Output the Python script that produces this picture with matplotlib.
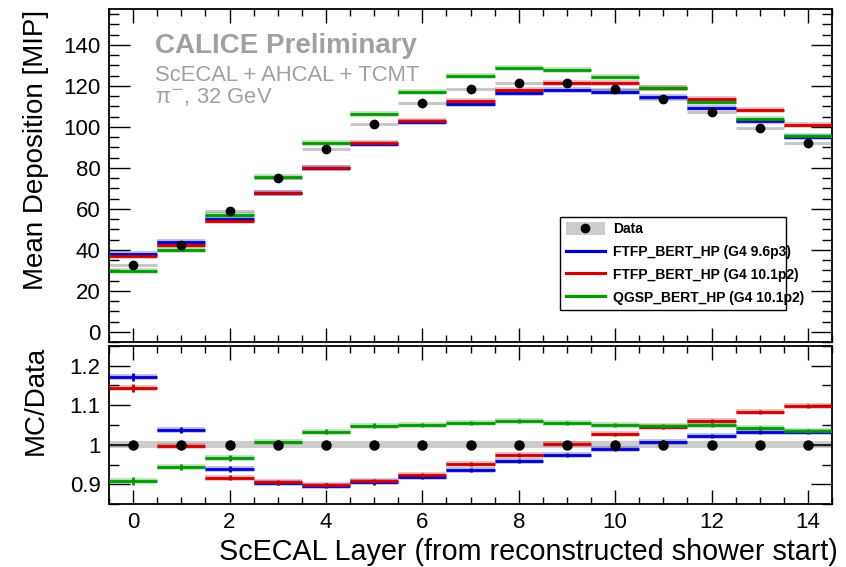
import numpy as np
import matplotlib
matplotlib.use("Agg")
import matplotlib.pyplot as plt
from matplotlib.patches import Rectangle
from matplotlib.lines import Line2D
from matplotlib.ticker import MultipleLocator

plt.rcParams["font.family"] = ["Liberation Sans", "DejaVu Sans"]

# ScECAL layer index (from reconstructed shower start)
layers = list(range(15))

# mean deposition [MIP]
data_mip = [32.5, 42.3, 58.9, 75.0, 89.2, 101.4, 111.5, 118.4, 121.3, 121.3, 118.4, 113.6, 107.1, 99.6, 92.1]
ftfp_96_mip = [38.1, 43.9, 55.2, 67.7, 79.9, 91.8, 102.5, 110.9, 116.3, 118.0, 117.2, 114.5, 109.3, 102.8, 95.1]
ftfp_101_mip = [37.2, 42.2, 54.0, 67.9, 80.1, 92.1, 102.9, 112.6, 118.0, 121.5, 121.5, 118.8, 113.6, 108.0, 101.0]
qgsp_101_mip = [29.5, 39.9, 57.0, 75.5, 92.1, 106.3, 117.2, 125.0, 128.6, 127.9, 124.4, 119.1, 112.3, 103.8, 95.4]

# MC / Data
ftfp_96_ratio = [1.171, 1.037, 0.938, 0.903, 0.896, 0.905, 0.919, 0.937, 0.959, 0.973, 0.990, 1.008, 1.021, 1.032, 1.033]
ftfp_101_ratio = [1.144, 0.997, 0.917, 0.905, 0.898, 0.908, 0.923, 0.951, 0.973, 1.002, 1.026, 1.046, 1.061, 1.084, 1.097]
qgsp_101_ratio = [0.908, 0.944, 0.967, 1.007, 1.033, 1.048, 1.051, 1.056, 1.060, 1.054, 1.051, 1.048, 1.049, 1.042, 1.036]
ratio_err = [0.010, 0.008, 0.007, 0.006, 0.006, 0.006, 0.005, 0.005, 0.005, 0.005, 0.005, 0.005, 0.005, 0.005, 0.005]

models = [
    ("FTFP_BERT_HP (G4 9.6p3)", "#0000cc", ftfp_96_mip, ftfp_96_ratio),
    ("FTFP_BERT_HP (G4 10.1p2)", "#cc0000", ftfp_101_mip, ftfp_101_ratio),
    ("QGSP_BERT_HP (G4 10.1p2)", "#009900", qgsp_101_mip, qgsp_101_ratio),
]

W, H = 846, 567
fig = plt.figure(figsize=(W / 100, H / 100), dpi=100)


def px_axes(x0, y0, x1, y1):
    return fig.add_axes([x0 / W, 1 - y1 / H, (x1 - x0) / W, (y1 - y0) / H])


ax = px_axes(109, 9, 832, 342)
axr = px_axes(109, 346, 832, 504)

x = np.array(layers, dtype=float)
lo, hi = x - 0.5, x + 0.5


def steps(axis, y, color, lw, zorder, alpha=1.0):
    axis.hlines(y, lo, hi, colors=color, linewidth=lw, zorder=zorder, alpha=alpha)


# top panel
steps(ax, data_mip, "#c8c8c8", 2.2, 2)
ax.plot(x, data_mip, "o", color="black", markersize=6, zorder=6)
for name, c, mip, _ in models:
    steps(ax, mip, c, 4.0, 3, alpha=0.3)
    steps(ax, mip, c, 2.0, 4)

# ratio panel
axr.axhspan(0.991, 1.009, color="#cccccc", zorder=1, linewidth=0)
axr.hlines([1.0, 1.0], [lo[0], x[-1]], [x[0], hi[-1]], colors="#222222", linewidth=1.5, zorder=2)
for name, c, _, ratio in models:
    steps(axr, ratio, c, 4.0, 3, alpha=0.3)
    steps(axr, ratio, c, 2.0, 4)
    axr.errorbar(x, ratio, yerr=ratio_err, fmt="none", ecolor=c, elinewidth=2.0, zorder=4)
axr.plot(x, np.ones_like(x), "o", color="black", markersize=6.5, zorder=6)

ax.set_xlim(-0.5, 14.5)
axr.set_xlim(-0.5, 14.5)
ax.set_ylim(-5, 157.5)
axr.set_ylim(0.85, 1.25)

for a in (ax, axr):
    a.xaxis.set_major_locator(MultipleLocator(2))
    a.xaxis.set_minor_locator(MultipleLocator(0.5))
    a.tick_params(axis="both", which="both", direction="in", top=True, right=True,
                  labelsize=16, width=1.0, pad=6)
    a.tick_params(axis="x", which="major", length=10)
    a.tick_params(axis="x", which="minor", length=5)
    a.tick_params(axis="y", which="major", length=15)
    a.tick_params(axis="y", which="minor", length=7.5)
    for s in a.spines.values():
        s.set_linewidth(1.3)

ax.yaxis.set_major_locator(MultipleLocator(20))
ax.yaxis.set_minor_locator(MultipleLocator(5))
axr.yaxis.set_major_locator(MultipleLocator(0.1))
axr.yaxis.set_minor_locator(MultipleLocator(0.05))
ax.tick_params(axis="x", labelbottom=False)
axr.set_yticks([0.9, 1.0, 1.1, 1.2])
axr.set_yticklabels(["0.9", "1", "1.1", "1.2"])

fig.text(36 / W, 1 - 10 / H, "Mean Deposition [MIP]", rotation=90, ha="center", va="top", fontsize=20)
fig.text(36 / W, 1 - 346 / H, "MC/Data", rotation=90, ha="center", va="top", fontsize=20)
fig.text(838 / W, 1 - 560 / H, "ScECAL Layer (from reconstructed shower start)", ha="right",
         va="baseline", fontsize=20.7)

grey = "#a0a0a0"
fig.text(155 / W, 1 - 53 / H, "CALICE Preliminary", fontsize=20, fontweight="bold", color=grey)
fig.text(155 / W, 1 - 81 / H, "ScECAL + AHCAL + TCMT", fontsize=15.8, color=grey)
fig.text(155 / W, 1 - 103 / H, "π$^{-}$, 32 GeV", fontsize=15.8, color=grey)

handles = [(Rectangle((0, 0), 1, 1, facecolor="#cccccc", edgecolor="none"),
            Line2D([], [], marker="o", color="black", linestyle="none", markersize=6))]
labels = ["Data"]
for name, c, _, _ in models:
    handles.append(Line2D([], [], color=c, linewidth=2.3))
    labels.append(name)
leg = ax.legend(handles, labels, loc="upper left",
                bbox_to_anchor=(0.624, 0.103, 0.312, 0.273), mode="expand",
                prop={"weight": "bold", "size": 10}, frameon=True, fancybox=False,
                edgecolor="black", framealpha=1, handlelength=2.8, handleheight=1.0,
                handletextpad=0.6, labelspacing=0.63, borderpad=0.4, borderaxespad=0)
leg.get_frame().set_linewidth(1.0)
leg.set_zorder(10)

fig.savefig("out.png", dpi=100)
